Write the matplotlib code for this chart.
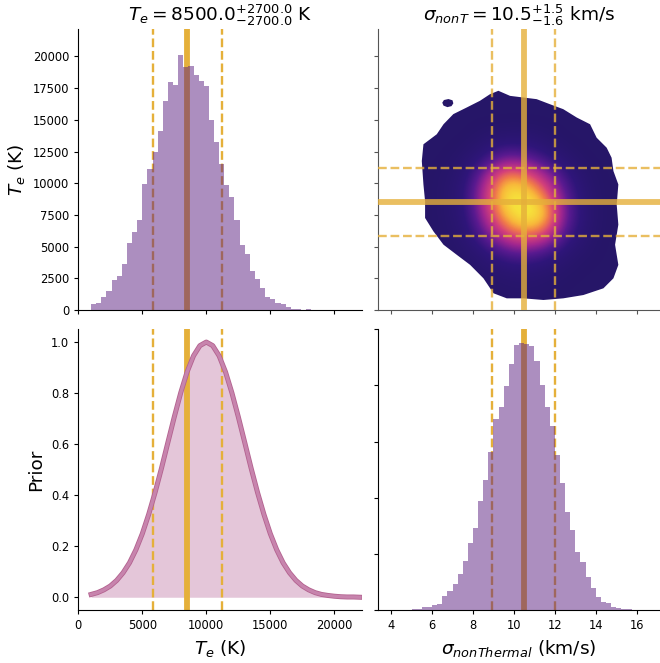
import numpy as np
import matplotlib
matplotlib.use("Agg")
import matplotlib.pyplot as plt
from matplotlib.colors import LinearSegmentedColormap
from matplotlib.path import Path
from matplotlib.patches import PathPatch
import matplotlib.patheffects as pe


# Posterior histogram of T_e (50 bins of 400 K starting at 1000 K)
te_bin_start = 1000
te_bin_width = 400
te_counts = [475, 580, 1056, 1500, 2375, 2690, 3640, 5280, 6175, 7125,
             9900, 11160, 12450, 14090, 16470, 17970, 17730, 20130, 19190, 19240,
             18530, 18050, 17660, 14990, 13220, 11550, 9820, 8950, 7130, 5150,
             4430, 3090, 2450, 1740, 1030, 870, 550, 470, 240, 80,
             80, 0, 80, 0, 0, 0, 0, 0, 0, 0]

# Posterior histogram of sigma_nonThermal (50 bins of 0.25 km/s starting at 4 km/s)
sig_bin_start = 4.0
sig_bin_width = 0.25
sig_counts = [10, 15, 20, 30, 50, 89, 238, 297, 445, 564,
              1250, 1690, 2320, 3210, 4390, 6000, 7300, 9710, 11580, 14040,
              17010, 18050, 19950, 21940, 23600, 23780, 23690, 23510, 22180, 20040,
              18080, 16390, 13810, 11310, 8730, 7130, 5170, 4280, 2940, 1960,
              1160, 710, 620, 270, 180, 90, 89, 30, 10, 5]

# Prior on T_e
prior_te = np.arange(1000, 22001, 500)
prior_vals = [0.011, 0.018, 0.029, 0.044, 0.066, 0.096, 0.135, 0.186, 0.249, 0.325,
              0.411, 0.506, 0.607, 0.707, 0.801, 0.883, 0.946, 0.986, 1.000, 0.986,
              0.946, 0.883, 0.801, 0.707, 0.607, 0.506, 0.411, 0.325, 0.249, 0.186,
              0.135, 0.096, 0.066, 0.044, 0.029, 0.018, 0.011, 0.007, 0.004, 0.002,
              0.001, 0.001, 0.000]

# Summary values
te_med, te_lo, te_hi = 8500, 5800, 11200
sig_med, sig_lo, sig_hi = 10.5, 8.93, 12.03

# Joint density (relative, 0..1), rows = T_e, columns = sigma
dens_sig = np.arange(4.5, 16.6, 1.0)
dens_te = np.arange(0, 18001, 1500)
dens = np.array([
    # 4.5  5.5  6.5   7.5   8.5   9.5   10.5  11.5  12.5  13.5  14.5 15.5 16.5
    [0.0, 0.0, 0.0,  0.0,  0.0,  0.0,  0.0,  0.0,  0.0,  0.0,  0.0, 0.0, 0.0],  # 0
    [0.0, 0.0, 0.0,  0.0,  0.0,  0.02, 0.03, 0.02, 0.0,  0.0,  0.0, 0.0, 0.0],  # 1500
    [0.0, 0.0, 0.0,  0.0,  0.03, 0.06, 0.08, 0.05, 0.02, 0.0,  0.0, 0.0, 0.0],  # 3000
    [0.0, 0.0, 0.0,  0.03, 0.10, 0.25, 0.30, 0.22, 0.08, 0.02, 0.0, 0.0, 0.0],  # 4500
    [0.0, 0.0, 0.02, 0.06, 0.30, 0.60, 0.75, 0.65, 0.25, 0.05, 0.0, 0.0, 0.0],  # 6000
    [0.0, 0.0, 0.02, 0.10, 0.45, 0.85, 1.00, 0.92, 0.35, 0.08, 0.0, 0.0, 0.0],  # 7500
    [0.0, 0.0, 0.02, 0.12, 0.50, 0.95, 0.95, 0.75, 0.30, 0.06, 0.0, 0.0, 0.0],  # 9000
    [0.0, 0.0, 0.02, 0.08, 0.40, 0.80, 0.75, 0.50, 0.20, 0.04, 0.0, 0.0, 0.0],  # 10500
    [0.0, 0.0, 0.0,  0.04, 0.15, 0.35, 0.32, 0.18, 0.06, 0.0,  0.0, 0.0, 0.0],  # 12000
    [0.0, 0.0, 0.0,  0.0,  0.04, 0.08, 0.08, 0.04, 0.0,  0.0,  0.0, 0.0, 0.0],  # 13500
    [0.0, 0.0, 0.0,  0.0,  0.0,  0.0,  0.0,  0.0,  0.0,  0.0,  0.0, 0.0, 0.0],  # 15000
    [0.0, 0.0, 0.0,  0.0,  0.0,  0.0,  0.0,  0.0,  0.0,  0.0,  0.0, 0.0, 0.0],  # 16500
    [0.0, 0.0, 0.0,  0.0,  0.0,  0.0,  0.0,  0.0,  0.0,  0.0,  0.0, 0.0, 0.0],  # 18000
])

# Outline of the density region (sigma, T_e), plus the small island
outline_sig = [9.24, 9.81, 10.46, 11.11, 11.76, 12.41, 13.07, 13.72, 14.04, 14.53,
               14.77, 14.86, 15.10, 15.02, 15.10, 14.94, 15.10, 14.86, 14.37, 13.39,
               12.41, 11.44, 10.46, 9.65, 9.00, 8.51, 7.86, 7.21, 6.56, 6.07,
               5.66, 5.66, 5.58, 5.50, 5.58, 6.23, 6.56, 7.04, 7.69, 8.34, 8.83]
outline_te = [17290, 16890, 16760, 16630, 16230, 15840, 15180, 14650, 13590, 12800,
              12010, 10960, 9900, 8310, 6730, 5150, 3560, 2500, 1710, 1180,
              920, 790, 920, 920, 1320, 2500, 3560, 4350, 5150, 6200,
              7260, 8580, 9900, 11750, 13070, 13860, 14650, 15450, 15970, 16500, 17020]
island_sig = [6.50, 6.58, 6.80, 7.00, 7.04, 6.95, 6.75, 6.56]
island_te = [16350, 16560, 16640, 16540, 16300, 16080, 16000, 16120]

te_lim = (0, 22140)
sig_lim = (3.375, 17.125)

gold = "#e5b03a"
hist_color = "#5b1f81"

plt.rcParams["font.family"] = "DejaVu Sans"
plt.rcParams["xtick.labelsize"] = 8.3
plt.rcParams["ytick.labelsize"] = 8.3
plt.rcParams["xtick.major.size"] = 3
plt.rcParams["ytick.major.size"] = 3
plt.rcParams["xtick.major.width"] = 0.8
plt.rcParams["ytick.major.width"] = 0.8

W, H = 660, 663
fig = plt.figure(figsize=(W / 100, H / 100), dpi=100)


def px_axes(left, top, width, height):
    return fig.add_axes([left / W, (H - top - height) / H, width / W, height / H])


ax_tl = px_axes(78.3, 29.3, 283.4, 280.7)
ax_tr = px_axes(378.3, 29.3, 281.5, 280.7)
ax_bl = px_axes(78.3, 329.3, 283.4, 280.7)
ax_br = px_axes(378.3, 329.3, 281.5, 280.7)

for ax in (ax_tl, ax_tr, ax_bl, ax_br):
    ax.spines["top"].set_visible(False)
    ax.spines["right"].set_visible(False)
for sp in ax_tr.spines.values():
    sp.set_color("#555555")
ax_tr.tick_params(color="#555555")

te_edges = te_bin_start + te_bin_width * np.arange(len(te_counts) + 1)
sig_edges = sig_bin_start + sig_bin_width * np.arange(len(sig_counts) + 1)

# Top left: T_e histogram, lines drawn beneath the bars
ax_tl.axvline(te_med, color=gold, lw=4.2, zorder=1)
for v in (te_lo, te_hi):
    ax_tl.axvline(v, color=gold, lw=1.7, ls="--", zorder=1)
ax_tl.stairs(te_counts, te_edges, fill=True, color=hist_color, alpha=0.5, lw=0, zorder=2)
ax_tl.set_xlim(te_lim)
ax_tl.set_ylim(te_lim)
ax_tl.set_xticks([0, 5000, 10000, 15000, 20000])
ax_tl.set_xticklabels([])
ax_tl.set_yticks(np.arange(0, 20001, 2500))
ax_tl.set_ylabel(r"$T_e$ (K)", fontsize=13.3)
ax_tl.set_title(r"$T_e = 8500.0^{+2700.0}_{-2700.0}$ K", fontsize=13.3)

# Top right: joint density
cmap = LinearSegmentedColormap.from_list("blob", [
    (0.0, "#261668"), (0.15, "#2f157a"), (0.3, "#5a1a90"), (0.45, "#a0268f"),
    (0.6, "#d4407a"), (0.72, "#f07a4a"), (0.82, "#f8b83a"), (0.92, "#f6e03a"),
    (1.0, "#f4ee3c")])
im = ax_tr.imshow(dens, origin="lower", aspect="auto", cmap=cmap, vmin=0, vmax=1,
                  interpolation="bicubic", zorder=1,
                  extent=(dens_sig[0] - 0.5, dens_sig[-1] + 0.5,
                          dens_te[0] - 750, dens_te[-1] + 750))
verts = list(zip(outline_sig, outline_te)) + [(outline_sig[0], outline_te[0])]
verts += list(zip(island_sig, island_te)) + [(island_sig[0], island_te[0])]
codes = ([Path.MOVETO] + [Path.LINETO] * (len(outline_sig) - 1) + [Path.CLOSEPOLY]
         + [Path.MOVETO] + [Path.LINETO] * (len(island_sig) - 1) + [Path.CLOSEPOLY])
clip = PathPatch(Path(verts, codes), transform=ax_tr.transData,
                 facecolor="none", edgecolor="none")
ax_tr.add_patch(clip)
im.set_clip_path(clip)
ax_tr.axvline(sig_med, color=gold, lw=4.2, alpha=0.8, zorder=3)
ax_tr.axhline(te_med, color=gold, lw=4.2, alpha=0.8, zorder=3)
for v in (sig_lo, sig_hi):
    ax_tr.axvline(v, color=gold, lw=1.7, ls="--", alpha=0.8, zorder=3)
for v in (te_lo, te_hi):
    ax_tr.axhline(v, color=gold, lw=1.7, ls="--", alpha=0.8, zorder=3)
ax_tr.set_xlim(sig_lim)
ax_tr.set_ylim(te_lim)
ax_tr.set_xticks(np.arange(4, 17, 2))
ax_tr.set_xticklabels([])
ax_tr.set_yticks(np.arange(0, 20001, 2500))
ax_tr.set_yticklabels([])
ax_tr.set_title(r"$\sigma_{nonT} = 10.5^{+1.5}_{-1.6}$ km/s", fontsize=13.3)

# Bottom left: prior on T_e
ax_bl.fill_between(prior_te, prior_vals, color="#e4c6d9", lw=0, zorder=1)
ax_bl.axvline(te_med, color=gold, lw=4.2, zorder=2)
for v in (te_lo, te_hi):
    ax_bl.axvline(v, color=gold, lw=1.7, ls="--", zorder=2)
ax_bl.plot(prior_te, prior_vals, color="#c784ad", lw=2.4, zorder=3,
           path_effects=[pe.Stroke(linewidth=3.6, foreground="#b3628f"), pe.Normal()])
ax_bl.set_xlim(te_lim)
ax_bl.set_ylim(-0.05, 1.05)
ax_bl.set_xticks([0, 5000, 10000, 15000, 20000])
ax_bl.set_yticks(np.arange(0, 1.01, 0.2))
ax_bl.set_xlabel(r"$T_e$ (K)", fontsize=13.3)
ax_bl.set_ylabel("Prior", fontsize=13.3)

# Bottom right: sigma histogram
ax_br.axvline(sig_med, color=gold, lw=4.2, zorder=1)
for v in (sig_lo, sig_hi):
    ax_br.axvline(v, color=gold, lw=1.7, ls="--", zorder=1)
ax_br.stairs(sig_counts, sig_edges, fill=True, color=hist_color, alpha=0.5, lw=0, zorder=2)
ax_br.set_xlim(sig_lim)
ax_br.set_ylim(0, 25000)
ax_br.set_xticks(np.arange(4, 17, 2))
ax_br.set_yticks(np.arange(0, 25001, 5000))
ax_br.set_yticklabels([])
ax_br.set_xlabel(r"$\sigma_{nonThermal}$ (km/s)", fontsize=13.3)

fig.savefig("out.png", dpi=100)
